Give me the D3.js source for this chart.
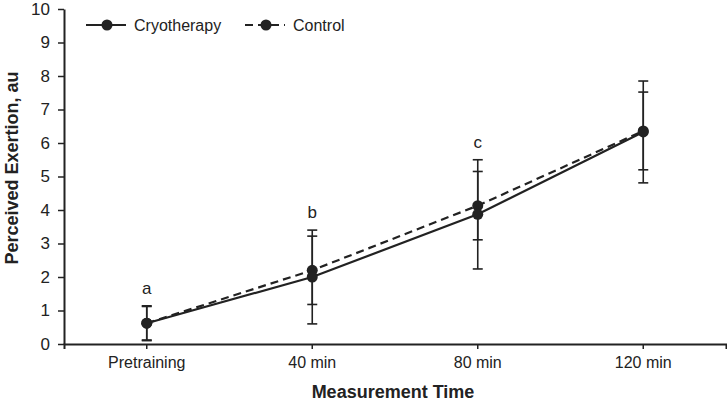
<!DOCTYPE html>
<html><head><meta charset="utf-8">
<script src="https://cdn.jsdelivr.net/npm/d3@7"></script>
<style>body{margin:0;background:#fff}text{font-family:"Liberation Sans",Arial,sans-serif;fill:#222}</style>
</head><body><svg id="c" width="727" height="404"></svg>
<script>
const categories = ["Pretraining", "40 min", "80 min", "120 min"];
const cryoValues = [0.62, 2.0, 3.87, 6.33];
const cryoErrors = [0.52, 1.4, 1.63, 1.52];
const controlValues = [0.62, 2.2, 4.13, 6.36];
const controlErrors = [0.5, 1.02, 1.02, 1.16];
const sigLetters = ["a", "b", "c", ""];
const yTicks = [0,1,2,3,4,5,6,7,8,9,10];

const svg = d3.select("#c");
const m = {l:64, r:726, t:9, b:344};
const x = d3.scaleBand().domain(categories).range([m.l, m.r]);
const y = d3.scaleLinear().domain([0,10]).range([m.b, m.t]);
const cx = d => x(d) + x.bandwidth()/2;
const ink = "#222";

// y axis
const ya = svg.append("g").attr("transform",`translate(${m.l},0)`)
  .call(d3.axisLeft(y).tickValues(yTicks).tickSize(6).tickSizeOuter(0));
ya.attr("font-size",17).attr("font-family","Liberation Sans, Arial");
ya.select(".domain").attr("stroke",ink).attr("stroke-width",2);
ya.selectAll(".tick line").attr("stroke",ink).attr("stroke-width",1.5);
ya.selectAll(".tick text").attr("x",-14).attr("fill","#222");

// x axis
const xa = svg.append("g").attr("transform",`translate(0,${m.b})`)
  .call(d3.axisBottom(x).tickSize(5).tickSizeOuter(5));
xa.attr("font-size",16).attr("font-family","Liberation Sans, Arial");
xa.select(".domain").attr("stroke",ink).attr("stroke-width",2);
xa.selectAll(".tick line").attr("stroke",ink).attr("stroke-width",1.5);
xa.selectAll(".tick text").attr("y",13).attr("fill","#222");

// titles
svg.append("text").attr("x",393).attr("y",398).attr("text-anchor","middle")
  .attr("font-size",18).attr("font-weight","bold").text("Measurement Time");
svg.append("text").attr("transform","translate(18,168) rotate(-90)").attr("text-anchor","middle")
  .attr("font-size",18).attr("font-weight","bold").text("Perceived Exertion, au");

function drawSeries(vals, errs, dash){
  const data = categories.map((c,i)=>({c, v:vals[i], e:errs[i]}));
  const g = svg.append("g");
  data.forEach(d=>{
    g.append("line").attr("x1",cx(d.c)).attr("x2",cx(d.c)).attr("y1",y(d.v+d.e)).attr("y2",y(d.v-d.e))
      .attr("stroke",ink).attr("stroke-width",1.6);
    [d.v+d.e, d.v-d.e].forEach(val=>{
      g.append("line").attr("x1",cx(d.c)-5).attr("x2",cx(d.c)+5).attr("y1",y(val)).attr("y2",y(val))
        .attr("stroke",ink).attr("stroke-width",1.6);
    });
  });
  g.append("path").datum(data)
    .attr("d", d3.line().x(d=>cx(d.c)).y(d=>y(d.v)))
    .attr("fill","none").attr("stroke",ink).attr("stroke-width",2.2)
    .attr("stroke-dasharray", dash ? "8,5" : null);
  g.selectAll("circle").data(data).join("circle")
    .attr("cx",d=>cx(d.c)).attr("cy",d=>y(d.v)).attr("r",5.5).attr("fill",ink);
}
drawSeries(controlValues, controlErrors, true);
drawSeries(cryoValues, cryoErrors, false);

// significance letters
categories.forEach((c,i)=>{
  if(!sigLetters[i]) return;
  const top = Math.max(cryoValues[i]+cryoErrors[i], controlValues[i]+controlErrors[i]);
  svg.append("text").attr("x",cx(c)).attr("y",y(top)-12).attr("text-anchor","middle")
    .attr("font-size",17).text(sigLetters[i]);
});

// legend
const leg = [{name:"Cryotherapy", dash:false, x:86}, {name:"Control", dash:true, x:245}];
leg.forEach(l=>{
  svg.append("line").attr("x1",l.x).attr("x2",l.x+40).attr("y1",25).attr("y2",25)
    .attr("stroke",ink).attr("stroke-width",2.2).attr("stroke-dasharray", l.dash?"8,5":null);
  svg.append("circle").attr("cx",l.x+21).attr("cy",25).attr("r",5.5).attr("fill",ink);
  svg.append("text").attr("x",l.x+48).attr("y",31).attr("font-size",16).text(l.name);
});
</script></body></html>
